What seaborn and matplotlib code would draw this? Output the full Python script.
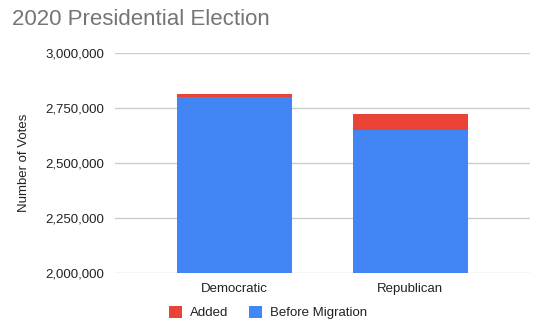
import matplotlib
matplotlib.use("Agg")
import matplotlib.pyplot as plt
import matplotlib.ticker as mticker
from matplotlib.patches import Patch
import seaborn as sns
import pandas as pd

parties = ["Democratic", "Republican"]
before_migration = [2801000, 2651000]
added = [14000, 72000]
y_ticks = [2000000, 2250000, 2500000, 2750000, 3000000]

RED = "#EA4335"
BLUE = "#4285F4"

sns.set_theme(style="white")
plt.rcParams["font.family"] = ["Liberation Sans", "DejaVu Sans"]

df = pd.DataFrame({
    "party": parties,
    "before": before_migration,
    "total": [b + a for b, a in zip(before_migration, added)],
})

fig = plt.figure(figsize=(5.36, 3.29), dpi=100)
ax = fig.add_axes([0.2146, 0.1693, 0.7742, 0.6687])

sns.barplot(data=df, x="party", y="total", color=RED, width=0.65,
            saturation=1, linewidth=0, ax=ax, zorder=3)
sns.barplot(data=df, x="party", y="before", color=BLUE, width=0.65,
            saturation=1, linewidth=0, ax=ax, zorder=4)

ax.set_ylim(2000000, 3000000)
ax.set_xlim(-0.68, 1.68)
ax.set_yticks(y_ticks)
ax.yaxis.set_major_formatter(mticker.FuncFormatter(lambda v, p: f"{int(v):,}"))
ax.grid(axis="y", color="#cccccc", linewidth=1, zorder=0)
ax.set_axisbelow(True)
for s in ax.spines.values():
    s.set_visible(False)
ax.tick_params(axis="both", length=0, labelsize=9.5, colors="#222222")
ax.tick_params(axis="y", pad=8)
ax.tick_params(axis="x", pad=7)
ax.set_xlabel("")
ax.set_ylabel("Number of Votes", fontsize=9.5, color="#222222", labelpad=11)

fig.text(0.022, 0.94, "2020 Presidential Election", fontsize=16,
         color="#757575", ha="left", va="center")

handles = [Patch(facecolor=RED, edgecolor="none", label="Added"),
           Patch(facecolor=BLUE, edgecolor="none", label="Before Migration")]
fig.legend(handles=handles, loc="center", bbox_to_anchor=(0.5, 0.05), ncol=2,
           frameon=False, handlelength=1.0, handleheight=1.0, fontsize=9.5,
           columnspacing=1.6, handletextpad=0.6, labelcolor="#222222")

fig.savefig("out.png", dpi=100)
